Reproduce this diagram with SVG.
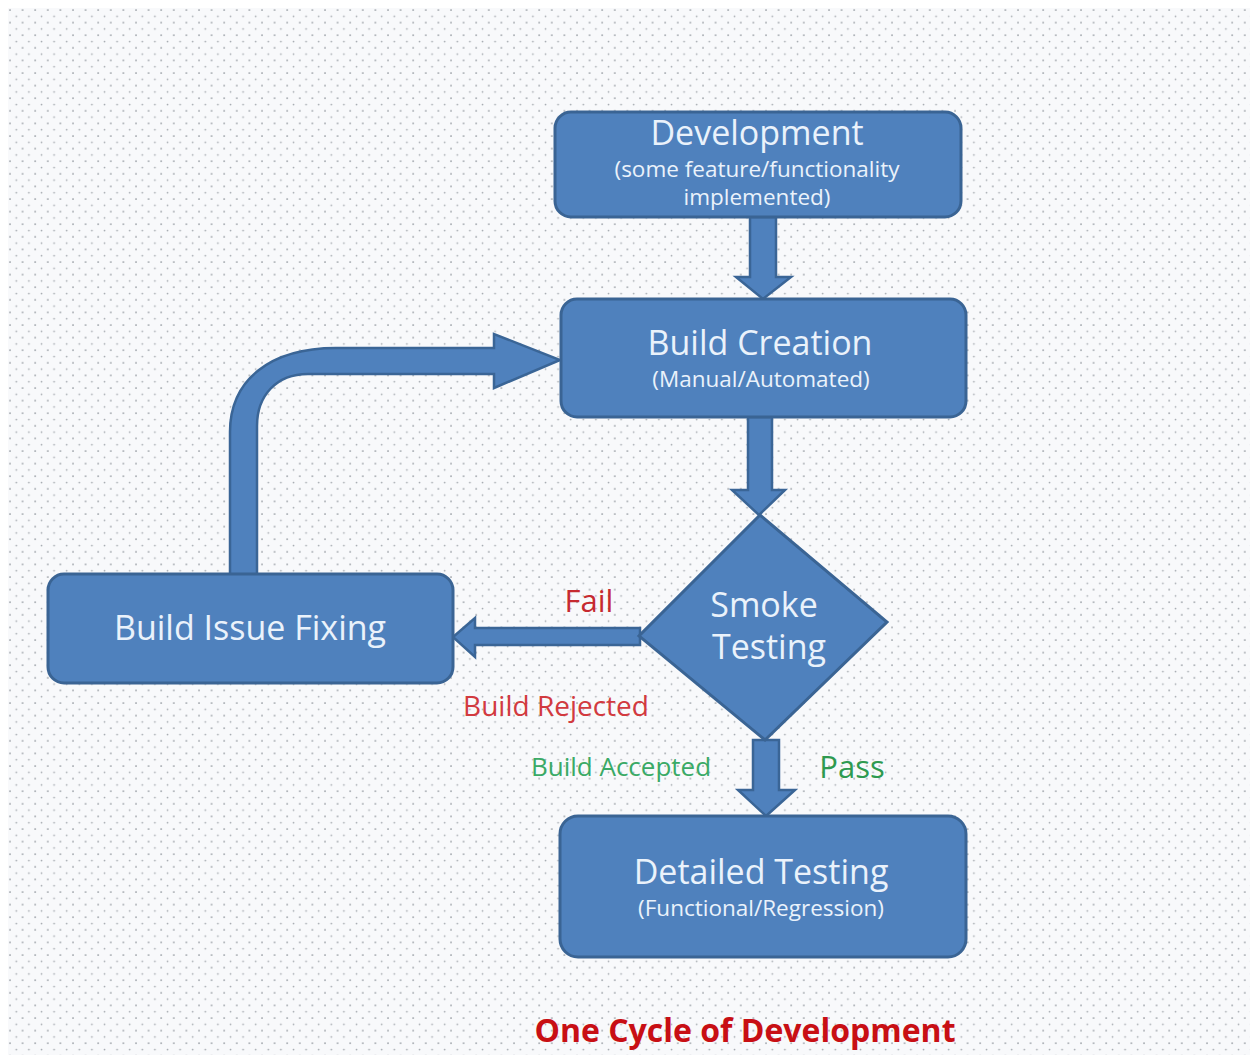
<svg xmlns="http://www.w3.org/2000/svg" width="1250" height="1055" viewBox="0 0 1250 1055">
  <defs>
    <!-- staggered dot grid for the page background -->
    <pattern id="dots" x="8" y="8" width="12.6" height="12.6" patternUnits="userSpaceOnUse">
      <rect width="12.6" height="12.6" fill="#f8f9fb"/>
      <circle cx="2" cy="2" r="0.85" fill="#8f959c"/>
      <circle cx="8.3" cy="8.3" r="0.85" fill="#a3a8ae"/>
    </pattern>
    <style>
      .box { fill: #4f81bd; stroke: #3a6494; stroke-width: 3; }
      .arrow { fill: #4f81bd; stroke: #3a6596; stroke-width: 2.5; stroke-linejoin: miter; }
      .title { font-family: "Open Sans", "Liberation Sans", sans-serif; font-size: 34px; fill: #eaf2fb; text-anchor: middle; }
      .sub { font-family: "Open Sans", "Liberation Sans", sans-serif; font-size: 22.5px; fill: #eaf2fb; text-anchor: middle; }
      .lbl { font-family: "Open Sans", "Liberation Sans", sans-serif; text-anchor: middle; }
    </style>
  </defs>

  <!-- page -->
  <rect width="1250" height="1055" fill="#ffffff"/>
  <rect x="8" y="8" width="1242" height="1047" fill="url(#dots)"/>

  <!-- connectors -->
  <g id="connectors">
    <!-- Development -> Build Creation -->
    <path class="arrow" d="M750,217 L776,217 L776,277 L791,277 L763,299 L736,277 L750,277 Z"/>
    <!-- Build Creation -> Smoke Testing -->
    <path class="arrow" d="M748,417 L772,417 L772,490 L785,490 L759,515 L732,490 L748,490 Z"/>
    <!-- Smoke Testing -> Detailed Testing (Pass) -->
    <path class="arrow" d="M753,740 L779,740 L779,790 L795,790 L766,816 L738,790 L753,790 Z"/>
    <!-- Smoke Testing -> Build Issue Fixing (Fail) -->
    <path class="arrow" d="M640,628 L640,645 L475,645 L475,657 L453,637 L475,618 L475,628 Z"/>
    <!-- Build Issue Fixing -> Build Creation (loop back) -->
    <path class="arrow" d="M230,575 L230,432 C230,380 270,348 336,348 L494,348 L494,334 L560,360 L494,388 L494,374 L308,374 C276,374 257,396 257,426 L257,575 Z"/>
  </g>

  <g id="development">
    <rect class="box" x="555" y="112" width="406" height="105" rx="16"/>
    <text class="title" x="757" y="145" font-size="33">Development</text>
    <text class="sub" x="757" y="177" font-size="20.5">(some feature/functionality</text>
    <text class="sub" x="757" y="205" font-size="20.5">implemented)</text>
  </g>

  <g id="build-creation">
    <rect class="box" x="561" y="299" width="405" height="118" rx="16"/>
    <text class="title" x="760" y="355">Build Creation</text>
    <text class="sub" x="761" y="387">(Manual/Automated)</text>
  </g>

  <g id="build-issue-fixing">
    <rect class="box" x="48" y="574" width="405" height="109" rx="16"/>
    <text class="title" x="250" y="640">Build Issue Fixing</text>
  </g>

  <g id="smoke-testing">
    <polygon class="box" points="760,515 887,622 765,740 639,636"/>
    <text class="title" x="764" y="617">Smoke</text>
    <text class="title" x="769" y="659">Testing</text>
  </g>

  <g id="detailed-testing">
    <rect class="box" x="560" y="816" width="406" height="141" rx="18"/>
    <text class="title" x="761" y="884">Detailed Testing</text>
    <text class="sub" x="761" y="916">(Functional/Regression)</text>
  </g>

  <!-- edge labels -->
  <g id="labels" class="lbl">
    <text x="589" y="612" font-size="31" fill="#c62a30">Fail</text>
    <text x="556" y="716" font-size="28" fill="#d23a3f">Build Rejected</text>
    <text x="621" y="776" font-size="26" fill="#3aaa66">Build Accepted</text>
    <text x="852" y="778" font-size="31" fill="#2e9a50">Pass</text>
  </g>

  <text id="caption" x="745" y="1042" font-family="'Open Sans', 'Liberation Sans', sans-serif" font-size="32" font-weight="bold" fill="#c80f14" text-anchor="middle">One Cycle of Development</text>
</svg>
